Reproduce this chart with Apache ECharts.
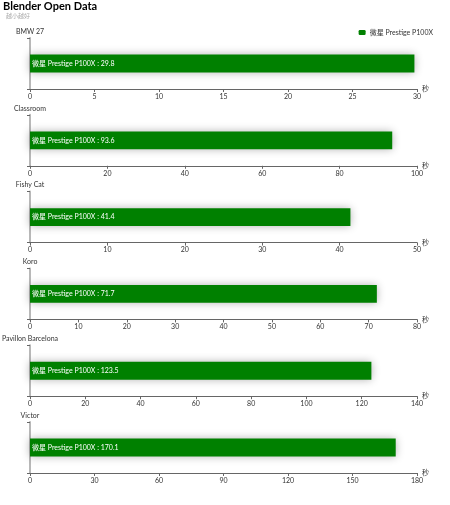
<!DOCTYPE html>
<html>
<head>
<meta charset="utf-8">
<script src="https://cdn.jsdelivr.net/npm/echarts@6/dist/echarts.min.js"></script>
<style>html,body{margin:0;padding:0;background:#fff}#c{width:450px;height:505px}</style>
</head>
<body>
<div id="c"></div>
<script>
var scenes = ['BMW 27', 'Classroom', 'Fishy Cat', 'Koro', 'Pavillon Barcelona', 'Victor'];
var seriesName = '微星 Prestige P100X';
var times = [29.8, 93.6, 41.4, 71.7, 123.5, 170.1];
var axisMax = [30, 100, 50, 80, 140, 180];
var axisInterval = [5, 20, 10, 10, 20, 30];

var FONT = 'Lato, "Noto Sans CJK SC", sans-serif';
var grids = [], xAxes = [], yAxes = [], series = [];
scenes.forEach(function (s, i) {
  grids.push({ left: 30, right: 33, top: 38 + i * 76.8, height: 51, outerBoundsMode: 'none', containLabel: false });
  xAxes.push({
    type: 'value', gridIndex: i, min: 0, max: axisMax[i], interval: axisInterval[i],
    name: '秒', nameGap: 5,
    nameTextStyle: { fontSize: 7, color: '#333', fontFamily: FONT, verticalAlign: 'middle', padding: [0, 0, 5, 0] },
    splitLine: { show: false },
    axisLine: { show: true, lineStyle: { color: '#666', width: 1 } },
    axisTick: { show: true, length: 3, lineStyle: { color: '#666' } },
    axisLabel: { fontSize: 7, color: '#333', margin: 4, fontFamily: FONT }
  });
  yAxes.push({
    type: 'category', gridIndex: i, data: [s],
    name: s, nameLocation: 'end', nameGap: 3,
    nameTextStyle: { fontSize: 7, color: '#333', fontFamily: FONT, align: 'center' },
    axisLine: { show: true, lineStyle: { color: '#b8b8b8', width: 2 } },
    axisTick: { show: true, length: 3, lineStyle: { color: '#666' } },
    axisLabel: { show: false }
  });
  series.push({
    type: 'bar', name: seriesName, xAxisIndex: i, yAxisIndex: i,
    data: [times[i]], barWidth: '35%',
    itemStyle: { color: '#008000', shadowBlur: 8, shadowColor: 'rgba(0,0,0,0.3)' },
    label: { show: true, position: 'insideLeft', formatter: '{a} : {c}', color: '#fff', fontSize: 7, fontFamily: FONT, offset: [-3, 0] }
  });
});

var chart = echarts.init(document.getElementById('c'));
chart.setOption({
  animation: false,
  title: [{
    text: 'Blender Open Data', left: 3, top: 1, padding: 0,
    textStyle: { fontSize: 11, fontWeight: 'bold', color: '#000', fontFamily: FONT }
  }, {
    text: '越小越好', left: 6, top: 13, padding: 0,
    textStyle: { fontSize: 6, fontWeight: 'normal', color: '#aaa', fontFamily: FONT }
  }],
  legend: {
    data: [seriesName], right: 17, top: 29, itemWidth: 7, itemHeight: 5, itemGap: 4, padding: 0,
    textStyle: { fontSize: 7, color: '#333', fontFamily: FONT, padding: [0, 0, 0, -1] }
  },
  grid: grids, xAxis: xAxes, yAxis: yAxes, series: series
});
</script>
</body>
</html>
